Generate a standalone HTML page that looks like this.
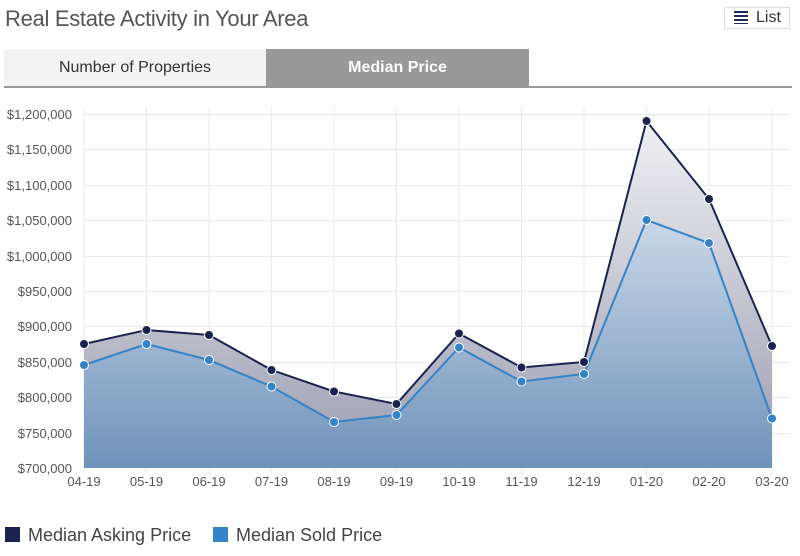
<!DOCTYPE html>
<html><head><style>
body{margin:0;width:800px;height:556px;background:#fff;font-family:"Liberation Sans",sans-serif;overflow:hidden;position:relative}
.t{position:absolute;left:5px;top:6px;font-size:22px;color:#555;letter-spacing:-0.3px}
.list{position:absolute;left:724px;top:7px;width:66px;height:22px;border:1px solid #ddd;font-size:16px;color:#333;box-sizing:border-box}
.tab1{position:absolute;left:4px;top:49px;width:262px;height:37px;background:#f3f3f3;color:#333;font-size:16px;text-align:center;line-height:37px}
.tab2{position:absolute;left:266px;top:49px;width:263px;height:37px;background:#999;color:#fff;font-size:16px;font-weight:bold;text-align:center;line-height:37px}
.bar{position:absolute;left:4px;top:86px;width:788px;height:2px;background:#999}
.leg{position:absolute;top:525px;font-size:18px;color:#444}
.sq{display:inline-block;width:15px;height:15px;vertical-align:-1px;margin-right:8px}
</style></head><body>
<div class="t">Real Estate Activity in Your Area</div>
<div class="list"><span style="position:absolute;left:9px;top:3px;width:14px;height:13px;background:repeating-linear-gradient(#1d2b5a 0 2px,#fff 2px 4px)"></span><span style="position:absolute;left:31px;top:1px">List</span></div>
<div class="tab1">Number of Properties</div>
<div class="tab2">Median Price</div>
<div class="bar"></div>
<svg width="800" height="556" style="position:absolute;left:0;top:0">
<defs>
<linearGradient id="g1" x1="0" y1="0" x2="0" y2="1"><stop offset="0" stop-color="#f0f0f3"/><stop offset="1" stop-color="#9a9cb0"/></linearGradient>
<linearGradient id="g2" x1="0" y1="0" x2="0" y2="1"><stop offset="0" stop-color="#c9d7e8"/><stop offset="1" stop-color="#6f93bb"/></linearGradient>
</defs>
<g stroke="#e8e8e8" stroke-width="1">
<line x1="84" x2="790" y1="114.5" y2="114.5"/><line x1="84" x2="790" y1="149.5" y2="149.5"/><line x1="84" x2="790" y1="185.5" y2="185.5"/><line x1="84" x2="790" y1="220.5" y2="220.5"/><line x1="84" x2="790" y1="256.5" y2="256.5"/><line x1="84" x2="790" y1="291.5" y2="291.5"/><line x1="84" x2="790" y1="326.5" y2="326.5"/><line x1="84" x2="790" y1="362.5" y2="362.5"/><line x1="84" x2="790" y1="397.5" y2="397.5"/><line x1="84" x2="790" y1="433.5" y2="433.5"/>
<line x1="146.5" x2="146.5" y1="108" y2="474"/><line x1="209" x2="209" y1="108" y2="474"/><line x1="271.5" x2="271.5" y1="108" y2="474"/><line x1="334" x2="334" y1="108" y2="474"/><line x1="396.5" x2="396.5" y1="108" y2="474"/><line x1="459" x2="459" y1="108" y2="474"/><line x1="521.5" x2="521.5" y1="108" y2="474"/><line x1="584" x2="584" y1="108" y2="474"/><line x1="646.5" x2="646.5" y1="108" y2="474"/><line x1="709" x2="709" y1="108" y2="474"/><line x1="772" x2="772" y1="108" y2="474"/>
<line x1="84" x2="84" y1="108" y2="474"/>
</g>
<g font-size="13" fill="#555" text-anchor="end">
<text x="72" y="119">$1,200,000</text><text x="72" y="154">$1,150,000</text><text x="72" y="190">$1,100,000</text><text x="72" y="225">$1,050,000</text><text x="72" y="261">$1,000,000</text><text x="72" y="296">$950,000</text><text x="72" y="331">$900,000</text><text x="72" y="367">$850,000</text><text x="72" y="402">$800,000</text><text x="72" y="438">$750,000</text><text x="72" y="473">$700,000</text>
</g>
<g font-size="13" fill="#555" text-anchor="middle">
<text x="84" y="486">04-19</text><text x="146.5" y="486">05-19</text><text x="209" y="486">06-19</text><text x="271.5" y="486">07-19</text><text x="334" y="486">08-19</text><text x="396.5" y="486">09-19</text><text x="459" y="486">10-19</text><text x="521.5" y="486">11-19</text><text x="584" y="486">12-19</text><text x="646.5" y="486">01-20</text><text x="709" y="486">02-20</text><text x="772" y="486">03-20</text>
</g>
<path d="M84,344 L146.5,330 209,335 271.5,370 334,391.5 396.5,404 459,333.5 521.5,367.5 584,362 646.5,121 709,199 772,346 L772,468 84,468Z" fill="url(#g1)"/>
<path d="M84,365 L146.5,344 209,360 271.5,386.5 334,422 396.5,415 459,347.5 521.5,381.5 584,374 646.5,220 709,243 772,418.5 L772,468 84,468Z" fill="url(#g2)"/>
<polyline points="84,344 146.5,330 209,335 271.5,370 334,391.5 396.5,404 459,333.5 521.5,367.5 584,362 646.5,121 709,199 772,346" fill="none" stroke="#1b2250" stroke-width="2"/>
<polyline points="84,365 146.5,344 209,360 271.5,386.5 334,422 396.5,415 459,347.5 521.5,381.5 584,374 646.5,220 709,243 772,418.5" fill="none" stroke="#3283c7" stroke-width="2"/>
<g fill="#1b2250" stroke="#fff" stroke-width="1">
<circle cx="84" cy="344" r="4.5"/><circle cx="146.5" cy="330" r="4.5"/><circle cx="209" cy="335" r="4.5"/><circle cx="271.5" cy="370" r="4.5"/><circle cx="334" cy="391.5" r="4.5"/><circle cx="396.5" cy="404" r="4.5"/><circle cx="459" cy="333.5" r="4.5"/><circle cx="521.5" cy="367.5" r="4.5"/><circle cx="584" cy="362" r="4.5"/><circle cx="646.5" cy="121" r="4.5"/><circle cx="709" cy="199" r="4.5"/><circle cx="772" cy="346" r="4.5"/>
</g>
<g fill="#3283c7" stroke="#fff" stroke-width="1">
<circle cx="84" cy="365" r="4.5"/><circle cx="146.5" cy="344" r="4.5"/><circle cx="209" cy="360" r="4.5"/><circle cx="271.5" cy="386.5" r="4.5"/><circle cx="334" cy="422" r="4.5"/><circle cx="396.5" cy="415" r="4.5"/><circle cx="459" cy="347.5" r="4.5"/><circle cx="521.5" cy="381.5" r="4.5"/><circle cx="584" cy="374" r="4.5"/><circle cx="646.5" cy="220" r="4.5"/><circle cx="709" cy="243" r="4.5"/><circle cx="772" cy="418.5" r="4.5"/>
</g>
</svg>
<div class="leg" style="left:5px"><span class="sq" style="background:#1b2250"></span>Median Asking Price</div>
<div class="leg" style="left:213px"><span class="sq" style="background:#3283c7"></span>Median Sold Price</div>
</body></html>
